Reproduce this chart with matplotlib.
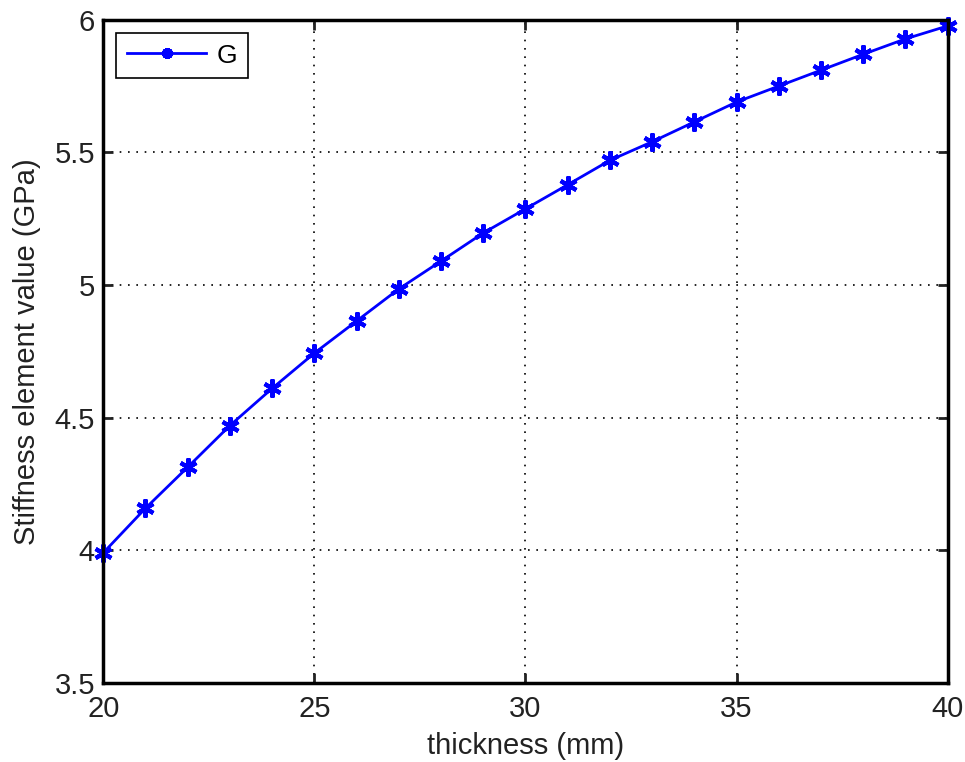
import matplotlib
matplotlib.use('Agg')
import matplotlib.pyplot as plt

plt.rcParams['font.family'] = ['Liberation Sans', 'DejaVu Sans']

# thickness (mm) vs stiffness G (GPa)
thickness = [20, 21, 22, 23, 24, 25, 26, 27, 28, 29, 30,
             31, 32, 33, 34, 35, 36, 37, 38, 39, 40]
G = [3.99, 4.158, 4.313, 4.47, 4.61, 4.743, 4.864, 4.985, 5.09, 5.196, 5.287,
     5.378, 5.47, 5.54, 5.615, 5.69, 5.75, 5.81, 5.87, 5.928, 5.977]

fig = plt.figure(figsize=(9.65, 7.62), dpi=100)
ax = fig.add_axes([0.107, 0.104, 0.875, 0.870])

ax.plot(thickness, G, color='blue', linewidth=2, marker=(6, 2, 0),
        markersize=13, markeredgewidth=3, label='G', clip_on=False)

ax.set_xlim(20, 40)
ax.set_ylim(3.5, 6)
ax.set_xticks([20, 25, 30, 35, 40])
ax.set_yticks([3.5, 4, 4.5, 5, 5.5, 6])
ax.set_yticklabels(['3.5', '4', '4.5', '5', '5.5', '6'])
ax.tick_params(direction='in', length=7, width=2, labelsize=21,
               top=True, right=True, colors='#222222')
ax.tick_params(axis='x', pad=9)
ax.tick_params(axis='y', pad=6)
ax.grid(True, color='black', linestyle=(0, (1, 4)), linewidth=1.2)
for s in ax.spines.values():
    s.set_linewidth(2.5)

ax.set_xlabel('thickness (mm)', fontsize=21, labelpad=6, color='#222222')
ax.set_ylabel('Stiffness element value (GPa)', fontsize=21, labelpad=10,
              color='#222222')

leg = ax.legend(loc='upper left', fontsize=19, fancybox=False,
                edgecolor='black', framealpha=1, handlelength=3.0,
                handletextpad=0.4, borderaxespad=0.5, markerscale=0.6)
leg.get_frame().set_linewidth(1.2)

plt.savefig('out.png', dpi=100)
